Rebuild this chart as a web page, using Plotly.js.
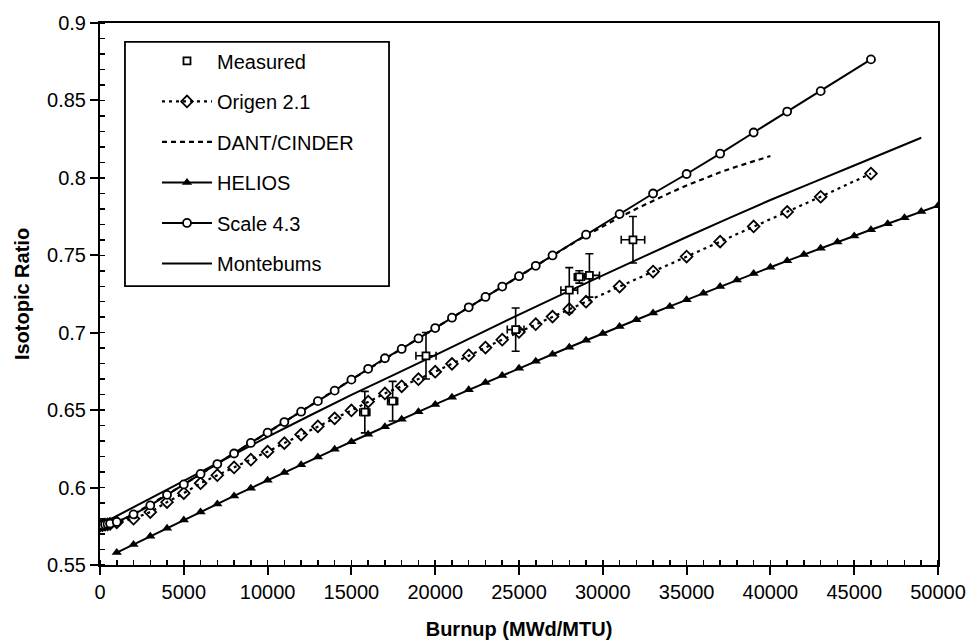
<!DOCTYPE html>
<html>
<head>
<meta charset="utf-8">
<script src="https://cdn.plot.ly/plotly-3.0.1.min.js"></script>
<style>html,body{margin:0;padding:0;background:#fff;}#chart{width:973px;height:644px;}</style>
</head>
<body>
<div id="chart"></div>
<script>
// ---- data ----
const measuredX = [15800, 17460, 19450, 24800, 28000, 28600, 29200, 31800];
const measuredY = [0.6487, 0.6558, 0.6851, 0.7020, 0.7275, 0.7360, 0.7370, 0.7600];
const measuredYErr = [0.0134, 0.0128, 0.0150, 0.0140, 0.0145, 0.0040, 0.0140, 0.0150];
const measuredXErr = [300, 300, 600, 500, 500, 300, 600, 700];

const origenX = [0, 150, 300, 450, 600, 1000, 2000, 3000, 4000, 5000, 6000, 7000, 8000, 9000, 10000,
  11000, 12000, 13000, 14000, 15000, 16000, 17000, 18000, 19000, 20000, 21000, 22000, 23000, 24000,
  25000, 26000, 27000, 28000, 29000, 31000, 33000, 35000, 37000, 39000, 41000, 43000, 46000];
const origenY = [0.5755, 0.5757, 0.5760, 0.5763, 0.5766, 0.5775, 0.5799, 0.5842, 0.5906, 0.5964, 0.6028, 0.6080, 0.6130, 0.6180, 0.6232,
  0.6287, 0.6342, 0.6395, 0.6447, 0.6498, 0.6555, 0.6608, 0.6654, 0.6700, 0.6748, 0.6799, 0.6853, 0.6904, 0.6955,
  0.7005, 0.7055, 0.7104, 0.7152, 0.7200, 0.7298, 0.7395, 0.7492, 0.7588, 0.7686, 0.7780, 0.7878, 0.8028];

const dantX = [0, 1000, 2000, 5000, 10000, 15000, 20000, 25000, 27000, 28000, 29000, 30000, 31000, 32000,
  33000, 34000, 35000, 36000, 37000, 38000, 39000, 40000];
const dantY = [0.5755, 0.5778, 0.5827, 0.6020, 0.6355, 0.6697, 0.7030, 0.7365, 0.7499, 0.7564, 0.7627, 0.7687, 0.7745, 0.7800,
  0.7853, 0.7903, 0.7951, 0.7996, 0.8036, 0.8073, 0.8108, 0.8141];

const heliosX = [1000, 2000, 3000, 4000, 5000, 6000, 7000, 8000, 9000, 10000, 11000, 12000, 13000, 14000, 15000,
  16000, 17000, 18000, 19000, 20000, 21000, 22000, 23000, 24000, 25000, 26000, 27000, 28000, 29000, 30000,
  31000, 32000, 33000, 34000, 35000, 36000, 37000, 38000, 39000, 40000, 41000, 42000, 43000, 44000, 45000,
  46000, 47000, 48000, 49000, 50000];
const heliosY = [0.5580, 0.5633, 0.5686, 0.5738, 0.5791, 0.5843, 0.5894, 0.5946, 0.5996, 0.6047, 0.6097, 0.6148, 0.6197, 0.6247, 0.6296,
  0.6345, 0.6393, 0.6441, 0.6489, 0.6537, 0.6584, 0.6631, 0.6678, 0.6724, 0.6770, 0.6816, 0.6861, 0.6906, 0.6951, 0.6995,
  0.7040, 0.7083, 0.7127, 0.7170, 0.7213, 0.7255, 0.7298, 0.7340, 0.7382, 0.7423, 0.7464, 0.7505, 0.7545, 0.7586, 0.7625,
  0.7665, 0.7704, 0.7743, 0.7782, 0.7820];

const scaleX = [0, 150, 300, 450, 600, 1000, 2000, 3000, 4000, 5000, 6000, 7000, 8000, 9000, 10000,
  11000, 12000, 13000, 14000, 15000, 16000, 17000, 18000, 19000, 20000, 21000, 22000, 23000, 24000,
  25000, 26000, 27000, 29000, 31000, 33000, 35000, 37000, 39000, 41000, 43000, 46000];
const scaleY = [0.5755, 0.5758, 0.5762, 0.5765, 0.5768, 0.5778, 0.5827, 0.5885, 0.5953, 0.6020, 0.6088, 0.6152, 0.6220, 0.6288, 0.6355,
  0.6423, 0.6490, 0.6558, 0.6626, 0.6697, 0.6767, 0.6835, 0.6895, 0.6963, 0.7030, 0.7097, 0.7164, 0.7231, 0.7298,
  0.7365, 0.7432, 0.7499, 0.7633, 0.7766, 0.7899, 0.8025, 0.8156, 0.8293, 0.8428, 0.8560, 0.8765];

const montebX = [0, 5000, 10000, 15000, 20000, 25000, 30000, 35000, 40000, 45000, 49000];
const montebY = [0.5760, 0.6043, 0.6328, 0.6598, 0.6855, 0.7117, 0.7370, 0.7618, 0.7857, 0.8080, 0.8259];

const xTickVals = [0, 5000, 10000, 15000, 20000, 25000, 30000, 35000, 40000, 45000, 50000];
const xTickText = ["0", "5000", "10000", "15000", "20000", "25000", "30000", "35000", "40000", "45000", "50000"];
const yTickVals = [0.55, 0.6, 0.65, 0.7, 0.75, 0.8, 0.85, 0.9];
const yTickText = ["0.55", "0.6", "0.65", "0.7", "0.75", "0.8", "0.85", "0.9"];

const seriesNames = ["Measured", "Origen 2.1", "DANT/CINDER", "HELIOS", "Scale 4.3", "Montebums"];

// ---- traces ----
const traces = [
  {x: montebX, y: montebY, name: seriesNames[5], mode: 'lines', legendrank: 6, legendgroup: 'g6',
   line: {color: '#000', width: 2, shape: 'spline', smoothing: 0.6}},
  {x: dantX, y: dantY, name: seriesNames[2], mode: 'lines', legendrank: 3, legendgroup: 'g3',
   line: {color: '#000', width: 2.2, dash: '5px,4px'}},
  {x: heliosX, y: heliosY, name: seriesNames[3], mode: 'lines+markers', legendrank: 4, legendgroup: 'g4',
   line: {color: '#000', width: 2}, marker: {symbol: 'triangle-up', size: 9, color: '#000'}},
  {x: origenX, y: origenY, name: seriesNames[1], mode: 'lines+markers', legendrank: 2, legendgroup: 'g2',
   line: {color: '#000', width: 2.2, dash: '3px,4px'},
   marker: {symbol: 'diamond-open', size: 9, color: '#000', line: {width: 1.8, color: '#000'}}},
  {x: scaleX, y: scaleY, name: seriesNames[4], mode: 'lines+markers', legendrank: 5, legendgroup: 'g5',
   line: {color: '#000', width: 2},
   marker: {symbol: 'circle', size: 8, color: '#fff', line: {width: 1.8, color: '#000'}}},
  {x: measuredX, y: measuredY, name: seriesNames[0], mode: 'markers', legendrank: 1, legendgroup: 'g1',
   marker: {symbol: 'square', size: 7, color: '#fff', line: {width: 1.8, color: '#000'}},
   error_y: {type: 'data', array: measuredYErr, visible: true, color: '#000', thickness: 1.6, width: 4},
   error_x: {type: 'data', array: measuredXErr, visible: true, color: '#000', thickness: 1.6, width: 4}}
];

const fontFam = '"Liberation Sans", Arial, Helvetica, sans-serif';

const layout = {
  width: 973, height: 644,
  margin: {l: 100, r: 35, t: 19, b: 79},
  paper_bgcolor: '#fff', plot_bgcolor: '#fff',
  font: {family: fontFam, color: '#000', size: 20},
  showlegend: true,
  legend: {x: 0.068, y: 0.966, xanchor: 'left', yanchor: 'top', bgcolor: 'rgba(0,0,0,0)',
           borderwidth: 0, itemwidth: 50, tracegroupgap: 11.5, font: {size: 20, family: fontFam},
           traceorder: 'grouped'},
  xaxis: {
    range: [0, 50000], tickmode: 'array', tickvals: xTickVals, ticktext: xTickText,
    showgrid: false, zeroline: false, showline: true, linecolor: '#000', linewidth: 2, mirror: true,
    ticks: 'outside', ticklen: 8, tickwidth: 2, tickcolor: '#000',
    minor: {dtick: 1000, ticks: 'inside', ticklen: 5, tickwidth: 1.5, tickcolor: '#000', showgrid: false},
    tickfont: {size: 20, family: fontFam},
    title: {text: '<b>Burnup (MWd/MTU)</b>', font: {size: 20, family: fontFam}}
  },
  yaxis: {
    range: [0.55, 0.9], tickmode: 'array', tickvals: yTickVals, ticktext: yTickText,
    showgrid: false, zeroline: false, showline: true, linecolor: '#000', linewidth: 2, mirror: true,
    ticks: 'outside', ticklen: 8, tickwidth: 2, tickcolor: '#000',
    minor: {dtick: 0.01, ticks: 'inside', ticklen: 5, tickwidth: 1.5, tickcolor: '#000', showgrid: false},
    tickfont: {size: 20, family: fontFam},
    automargin: true,
    title: {text: '<b>Isotopic Ratio</b>', font: {size: 20, family: fontFam}, standoff: 12}
  },
  shapes: [
    {type: 'rect', xref: 'paper', yref: 'paper', x0: 0.0298, x1: 0.3449, y0: 0.5147, y1: 0.9652,
     line: {color: '#000', width: 1.8}, fillcolor: 'rgba(0,0,0,0)'}
  ]
};

Plotly.newPlot('chart', traces, layout, {staticPlot: true, displayModeBar: false});
</script>
</body>
</html>
